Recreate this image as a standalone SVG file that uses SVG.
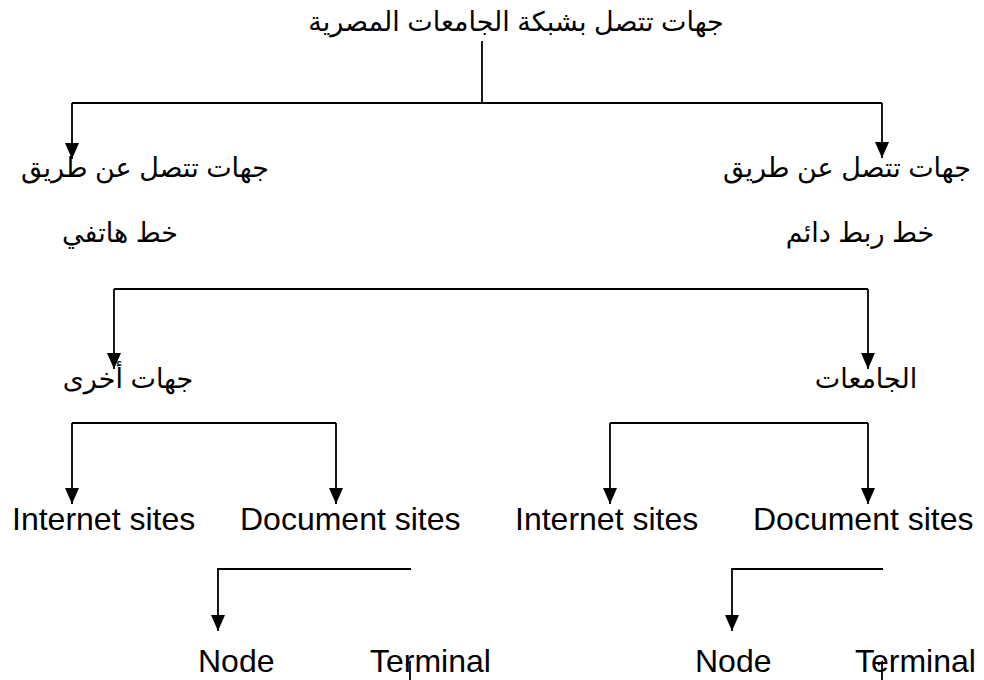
<svg xmlns="http://www.w3.org/2000/svg" width="984" height="680" viewBox="0 0 984 680">
<style>
.ar{font-family:"Liberation Sans","DejaVu Sans",sans-serif;font-size:27px;fill:#000;text-anchor:middle}
.en{font-family:"Liberation Sans",Arial,sans-serif;font-size:32px;fill:#000}
.ln{fill:none;stroke:#000;stroke-width:1.8}
</style>
<defs>
<marker id="ah" markerUnits="userSpaceOnUse" markerWidth="16" markerHeight="14" viewBox="0 0 16 14" refX="16" refY="7" orient="auto">
<path d="M0,0 L16,7 L0,14 z" fill="#000"/>
</marker>
</defs>
<rect width="984" height="680" fill="#fff"/>
<g id="connectors">
<path class="ln" d="M482,41 V103"/>
<path class="ln" d="M72,103 H882"/>
<path class="ln" d="M72,103 V159" marker-end="url(#ah)"/>
<path class="ln" d="M882,103 V158" marker-end="url(#ah)"/>
<path class="ln" d="M114,289 H868"/>
<path class="ln" d="M114,289 V369" marker-end="url(#ah)"/>
<path class="ln" d="M868,289 V369" marker-end="url(#ah)"/>
<path class="ln" d="M72,423 H336"/>
<path class="ln" d="M72,423 V504" marker-end="url(#ah)"/>
<path class="ln" d="M336,423 V504" marker-end="url(#ah)"/>
<path class="ln" d="M610,423 H868"/>
<path class="ln" d="M610,423 V504" marker-end="url(#ah)"/>
<path class="ln" d="M868,423 V504" marker-end="url(#ah)"/>
<path class="ln" d="M411,569 H218 V631" marker-end="url(#ah)"/>
<path class="ln" d="M883,569 H732 V631" marker-end="url(#ah)"/>
<path class="ln" d="M406,665 L410,662 V680"/>
<path class="ln" d="M878,665 L882,662 V680"/>
</g>
<g id="root"><text class="ar" x="516" y="31">جهات تتصل بشبكة الجامعات المصرية</text></g>
<g id="phone"><text class="ar" x="145" y="177">جهات تتصل عن طريق</text><text class="ar" x="120" y="242">خط هاتفي</text></g>
<g id="leased"><text class="ar" x="847" y="177">جهات تتصل عن طريق</text><text class="ar" x="860" y="242">خط ربط دائم</text></g>
<g id="others"><text class="ar" x="128" y="388">جهات أخرى</text></g>
<g id="universities"><text class="ar" x="866" y="388">الجامعات</text></g>
<g id="internet1"><text class="en" x="12" y="530">Internet sites</text></g>
<g id="document1"><text class="en" x="240" y="530">Document sites</text></g>
<g id="internet2"><text class="en" x="515" y="530">Internet sites</text></g>
<g id="document2"><text class="en" x="753" y="530">Document sites</text></g>
<g id="node1"><text class="en" x="198" y="672">Node</text></g>
<g id="terminal1"><text class="en" x="370" y="672">Terminal</text></g>
<g id="node2"><text class="en" x="695" y="672">Node</text></g>
<g id="terminal2"><text class="en" x="855" y="672">Terminal</text></g>
</svg>
